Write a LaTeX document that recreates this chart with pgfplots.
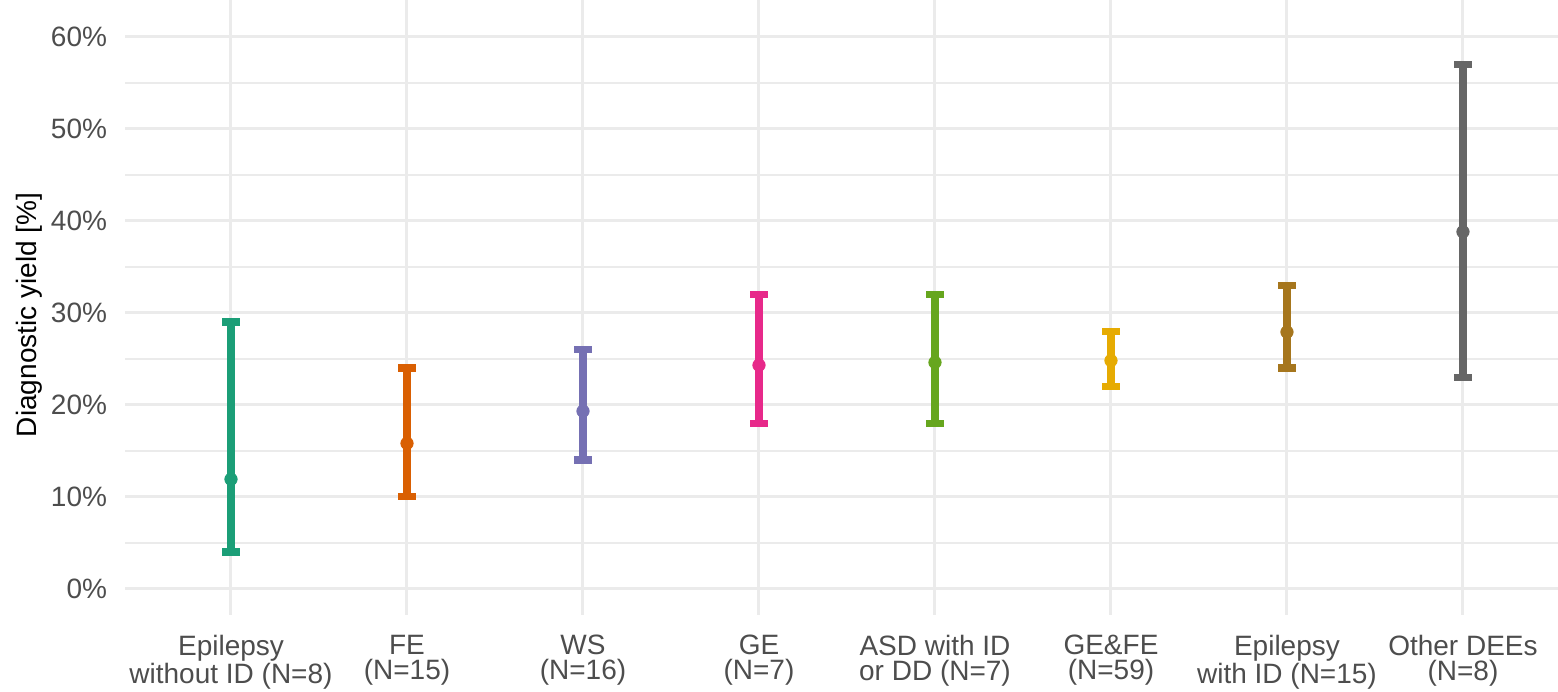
\documentclass[border=0pt]{standalone}
\usepackage{pgfplots}
\pgfplotsset{compat=1.18}
\usepackage{pgfplotstable}
\usepackage{fontspec}
\setmainfont{Liberation Sans}

% Dark2 palette
\definecolor{dkA}{HTML}{1B9E77}
\definecolor{dkB}{HTML}{D95F02}
\definecolor{dkC}{HTML}{7570B3}
\definecolor{dkD}{HTML}{E7298A}
\definecolor{dkE}{HTML}{66A61E}
\definecolor{dkF}{HTML}{E6AB02}
\definecolor{dkG}{HTML}{A6761D}
\definecolor{dkH}{HTML}{666666}
\definecolor{gridc}{HTML}{EBEBEB}
\definecolor{ticktxt}{HTML}{4D4D4D}

% diagnostic yield (%) with lower / upper confidence limits
\pgfplotstableread{
x y    lo   hi
1 11.9 4.0  29.0
2 15.8 10.0 24.0
3 19.3 14.0 26.0
4 24.3 18.0 32.0
5 24.6 18.0 32.0
6 24.8 22.0 28.0
7 27.9 24.0 33.0
8 38.8 23.0 57.0
}\yieldtable

% #1 colour, #2 row index, #3 row index + 1
\pgfplotsset{
  yieldbar/.style n args={3}{
    color=#1, only marks, mark=*, mark size=3.1pt,
    mark options={draw=#1, fill=#1, line width=0.4pt},
    skip coords between index={0}{#2},
    skip coords between index={#3}{8},
    error bars/.cd, y dir=both, y explicit,
    error bar style={line width=3.6pt, color=#1},
    error mark options={rotate=90, mark size=4.4pt, line width=3.6pt, color=#1}
  },
}

\newcommand{\yieldplot}[3]{%
  \addplot[yieldbar={#1}{#2}{#3}] table[x=x, y=y,
    y error plus expr=\thisrow{hi}-\thisrow{y},
    y error minus expr=\thisrow{y}-\thisrow{lo}] {\yieldtable};
}

\begin{document}
\begin{tikzpicture}
\begin{axis}[
  name=main,
  scale only axis,
  width=716.3pt, height=307.5pt,
  xmin=0.4, xmax=8.54,
  ymin=-2.86, ymax=64,
  axis line style={draw=none},
  tick style={draw=none},
  major tick length=0pt, minor tick length=0pt,
  xtick={1,...,8},
  xticklabels={
    {Epilepsy\\without ID (N=8)},
    {FE\\(N=15)},
    {WS\\(N=16)},
    {GE\\(N=7)},
    {ASD with ID\\or DD (N=7)},
    {GE\&FE\\(N=59)},
    {Epilepsy\\with ID (N=15)},
    {Other DEEs\\(N=8)}},
  ytick={0,10,...,60},
  yticklabels={0\%,10\%,20\%,30\%,40\%,50\%,60\%},
  minor ytick={5,15,...,55},
  grid=both,
  major grid style={color=gridc, line width=1.5pt},
  minor grid style={color=gridc, line width=0.9pt},
  xticklabel style={font=\fontsize{14}{12.5}\selectfont, color=ticktxt,
    align=center, anchor=north, inner sep=0pt, yshift=-9.8pt},
  yticklabel style={font=\fontsize{14}{16}\selectfont, color=ticktxt,
    anchor=east, inner sep=0pt, xshift=-9pt},
  ylabel={Diagnostic yield [\%]},
  every axis y label/.style={at={(axis description cs:-0.0673,0.488)},
    anchor=center, rotate=90, font=\fontsize{14}{16}\selectfont, color=black},
]
\yieldplot{dkA}{0}{1}
\yieldplot{dkB}{1}{2}
\yieldplot{dkC}{2}{3}
\yieldplot{dkD}{3}{4}
\yieldplot{dkE}{4}{5}
\yieldplot{dkF}{5}{6}
\yieldplot{dkG}{6}{7}
\yieldplot{dkH}{7}{8}
\end{axis}
\pgfresetboundingbox
\path ([xshift=-62.7pt, yshift=-38pt]main.south west) rectangle (main.north east);
\end{tikzpicture}
\end{document}
